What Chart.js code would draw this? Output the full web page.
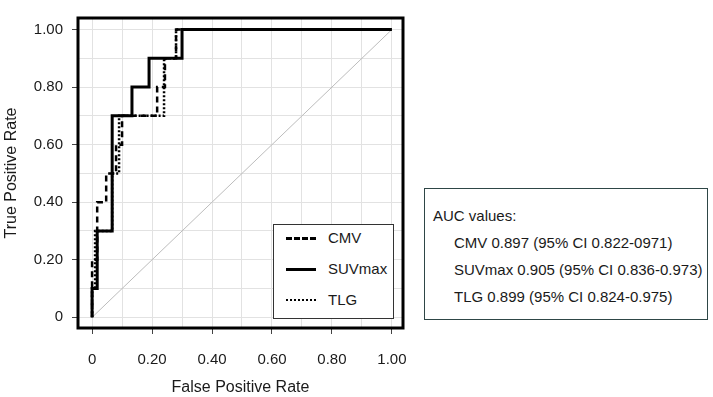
<!DOCTYPE html>
<html>
<head>
<meta charset="utf-8">
<script src="https://cdn.jsdelivr.net/npm/chart.js@4"></script>
<style>
  html, body { margin: 0; padding: 0; background: #fff; }
  #wrap { position: relative; width: 713px; height: 397px; font-family: 'Liberation Sans', Arial, sans-serif; color: #1a1a1a; }
  #legend { position: absolute; left: 273px; top: 224px; width: 119px; height: 93px; border: 1px solid #333; background: #fff; }
  #legend .item { position: absolute; left: 0; height: 20px; font-size: 15px; line-height: 20px; }
  #legend .sample { position: absolute; left: 12px; top: 9px; width: 30px; height: 0; border-top-color: #000; }
  #legend .lbl { position: absolute; left: 54px; top: 0; white-space: nowrap; }
  #auc { position: absolute; left: 424px; top: 188px; width: 282px; height: 130px; border: 1px solid #2e4646; background: #fff; font-size: 15px; }
  #auc div { position: absolute; white-space: nowrap; line-height: 18px; }
</style>
</head>
<body>
<div id="wrap">
  <canvas id="c" width="713" height="397"></canvas>
  <div id="legend"></div>
  <div id="auc"></div>
</div>
<script>
// ROC curves (corner points of each step curve)
const cmvFpr = [0, 0, 0.017, 0.017, 0.047, 0.047, 0.08, 0.08, 0.1, 0.1, 0.217, 0.217, 0.243, 0.243, 0.28, 0.28, 1];
const cmvTpr = [0, 0.2, 0.2, 0.4, 0.4, 0.5, 0.5, 0.6, 0.6, 0.7, 0.7, 0.8, 0.8, 0.9, 0.9, 1, 1];
const suvFpr = [0, 0, 0.017, 0.017, 0.067, 0.067, 0.133, 0.133, 0.19, 0.19, 0.3, 0.3, 1];
const suvTpr = [0, 0.1, 0.1, 0.3, 0.3, 0.7, 0.7, 0.8, 0.8, 0.9, 0.9, 1, 1];
const tlgFpr = [0, 0, 0.01, 0.01, 0.067, 0.067, 0.09, 0.09, 0.24, 0.24, 0.28, 0.28, 1];
const tlgTpr = [0, 0.1, 0.1, 0.3, 0.3, 0.5, 0.5, 0.7, 0.7, 0.9, 0.9, 1, 1];
const chanceLine = [0, 1];

const seriesNames = ['CMV', 'SUVmax', 'TLG'];
const aucLines = [
  'CMV 0.897 (95% CI 0.822-0971)',
  'SUVmax 0.905 (95% CI 0.836-0.973)',
  'TLG 0.899 (95% CI 0.824-0.975)'
];
const tickValues = [0, 0.1, 0.2, 0.3, 0.4, 0.5, 0.6, 0.7, 0.8, 0.9, 1.0];

function pts(xs, ys) {
  return xs.map((x, i) => ({ x: x, y: ys[i] }));
}

const styles = [
  { borderDash: [6, 4], borderWidth: 2.5 },
  { borderDash: [], borderWidth: 3 },
  { borderDash: [2, 2], borderWidth: 2.5 }
];

Chart.defaults.font.family = "'Liberation Sans', Arial, sans-serif";
Chart.defaults.color = '#1a1a1a';

const frame = {
  id: 'frame',
  afterDatasetsDraw(chart) {
    const a = chart.chartArea;
    const ctx = chart.ctx;
    ctx.save();
    ctx.strokeStyle = '#000';
    ctx.lineWidth = 3;
    ctx.strokeRect(a.left, a.top, a.right - a.left, a.bottom - a.top);
    ctx.restore();
  }
};

function axis(min, max, title, isX) {
  return {
    type: 'linear',
    min: min,
    max: max,
    afterBuildTicks: s => { s.ticks = tickValues.map(v => ({ value: v })); },
    afterFit: s => {
      if (isX) s.height = 69; else s.width = 78;
    },
    border: { display: false },
    grid: {
      color: '#e2e2e2',
      borderDash: [2, 2],
      lineWidth: 1,
      tickLength: 6,
      tickColor: c => (c.index % 2 === 0 ? '#444' : 'rgba(0,0,0,0)'),
      tickBorderDash: [],
      tickWidth: 1
    },
    ticks: {
      font: { size: 15 },
      color: '#1a1a1a',
      padding: isX ? 17 : 9,
      maxRotation: 0,
      autoSkip: false,
      callback: (v, i) => (i % 2 !== 0 ? '' : (v === 0 ? '0' : v.toFixed(2)))
    },
    title: {
      display: true,
      text: title,
      font: { size: 16 },
      color: '#1a1a1a',
      padding: isX ? { top: 0, bottom: 0 } : { top: 2, bottom: 0 }
    }
  };
}

new Chart(document.getElementById('c'), {
  type: 'scatter',
  data: {
    datasets: [
      Object.assign({ label: seriesNames[0], data: pts(cmvFpr, cmvTpr) }, styles[0]),
      Object.assign({ label: seriesNames[1], data: pts(suvFpr, suvTpr) }, styles[1]),
      Object.assign({ label: seriesNames[2], data: pts(tlgFpr, tlgTpr) }, styles[2]),
      { label: 'chance', data: pts(chanceLine, chanceLine), borderColor: '#bcbcbc', borderWidth: 1, order: 5 }
    ].map(d => Object.assign({
      showLine: true,
      borderColor: '#000',
      pointRadius: 0,
      pointHoverRadius: 0,
      fill: false,
      tension: 0
    }, d))
  },
  options: {
    responsive: false,
    animation: false,
    layout: { padding: { left: 0, top: 5, right: 310, bottom: 0 } },
    scales: {
      x: axis(-0.047, 1.037, 'False Positive Rate', true),
      y: axis(-0.037, 1.04, 'True Positive Rate', false)
    },
    plugins: {
      legend: { display: false },
      tooltip: { enabled: false }
    }
  },
  plugins: [frame]
});

// legend box inside the plot
const legendEl = document.getElementById('legend');
seriesNames.forEach((name, i) => {
  const item = document.createElement('div');
  item.className = 'item';
  item.style.top = (3 + i * 31) + 'px';
  const s = document.createElement('div');
  s.className = 'sample';
  const kind = i === 0 ? 'dashed' : (i === 1 ? 'solid' : 'dotted');
  s.style.borderTop = (i === 2 ? 2 : 3) + 'px ' + kind + ' #000';
  const l = document.createElement('div');
  l.className = 'lbl';
  l.textContent = name;
  item.appendChild(s);
  item.appendChild(l);
  legendEl.appendChild(item);
});

// AUC text box
const aucEl = document.getElementById('auc');
const head = document.createElement('div');
head.textContent = 'AUC values:';
head.style.left = '8px';
head.style.top = '18px';
aucEl.appendChild(head);
aucLines.forEach((t, i) => {
  const d = document.createElement('div');
  d.textContent = t;
  d.style.left = '29px';
  d.style.top = (45 + i * 27) + 'px';
  aucEl.appendChild(d);
});
</script>
</body>
</html>
